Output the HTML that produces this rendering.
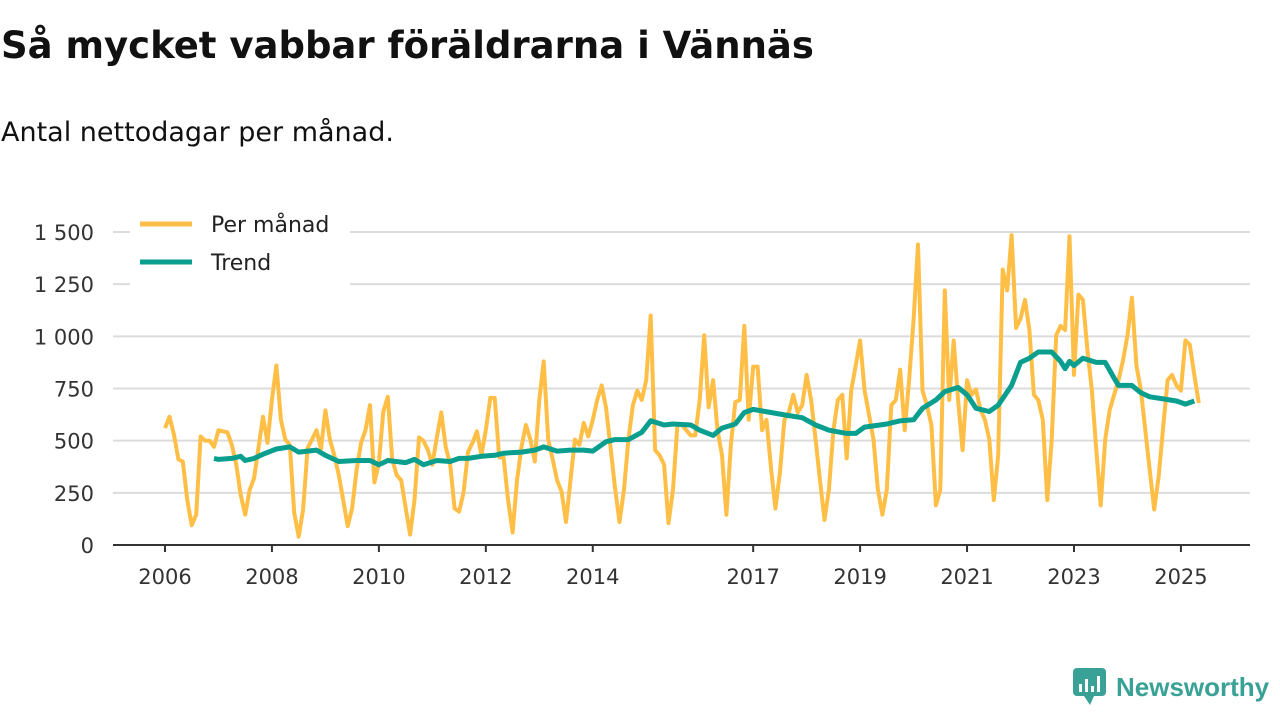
<!DOCTYPE html>
<html><head><meta charset="utf-8"><style>
body{margin:0;width:1280px;height:720px;background:#fff;font-family:"DejaVu Sans","Liberation Sans",sans-serif;overflow:hidden;position:relative}
h1{position:absolute;left:1px;top:24px;margin:0;font-size:37px;font-weight:bold;color:#111;white-space:nowrap}
.sub{position:absolute;left:1px;top:117px;font-size:27px;color:#111;white-space:nowrap}
</style></head><body>
<h1>Så mycket vabbar föräldrarna i Vännäs</h1>
<div class="sub">Antal nettodagar per månad.</div>
<svg id="chart" width="1280" height="720" style="position:absolute;left:0;top:0"></svg>
<script>
const monthly=[560,615,530,410,400,215,95,145,520,500,500,470,
550,545,540,480,385,240,145,265,320,470,615,490,
695,860,600,505,480,155,40,170,465,505,550,460,
645,505,430,335,215,90,175,360,490,550,670,300,
395,640,710,410,335,310,180,50,215,515,500,455,
385,515,635,470,385,175,160,250,445,490,545,
430,550,705,705,420,420,215,60,310,470,575,505,
400,695,880,505,410,310,255,110,310,505,480,585,
520,600,695,765,655,465,275,110,265,505,670,740,
695,790,1100,455,430,385,105,265,575,575,550,525,
525,695,1005,660,790,550,430,145,480,685,695,
1050,600,855,855,550,600,370,175,345,600,635,720,
635,670,815,695,505,310,120,265,550,695,720,415,
740,860,980,740,625,505,265,145,265,670,695,840,
550,790,1080,1440,740,670,575,190,265,1220,695,980,
695,455,790,720,745,650,600,505,215,430,1320,1220,1485,
1040,1085,1175,1030,720,695,600,215,505,1005,1050,1030,
1480,815,1200,1175,935,745,455,190,505,645,720,790,
885,1005,1185,860,745,550,360,170,330,560,790,815,765,
740,980,960,815,680];
const trendMonths=[11,12,15,17,18,20,22,25,28,30,34,36,39,43,46,48,50,54,56,58,61,64,66,68,71,74,76,80,83,85,88,91,94,96,99,101,104,107,109,112,114,118,120,123,125,128,130,132,136,140,143,146,149,153,155,157,162,165,168,170,173,175,178,180,182,185,187,190,192,194,196,199,201,202,203,204,206,209,211,213,214,217,219,221,224,227,229,231];
const trendValues=[415,410,415,425,405,415,435,460,470,445,455,430,400,405,405,385,405,395,410,385,405,400,415,415,425,430,440,445,455,470,450,455,455,450,495,505,505,540,595,575,580,575,550,525,560,580,635,650,635,620,610,575,550,535,535,565,580,595,600,655,695,735,755,720,655,640,670,765,875,895,925,925,880,845,880,860,895,875,875,800,765,765,730,710,700,690,675,690];
const yTicks=[0,250,500,750,1000,1250,1500];
const yTickLabels=["0","250","500","750","1 000","1 250","1 500"];
const xTickYears=[2006,2008,2010,2012,2014,2017,2019,2021,2023,2025];

const NS="http://www.w3.org/2000/svg";
const svg=document.getElementById('chart');
const FONT='DejaVu Sans, Liberation Sans, sans-serif';
const X0=165, PX_YEAR=53.47, Y0=545, PX_UNIT=313/1500;
const xm=m=>X0+m*PX_YEAR/12;
const xy=yr=>X0+(yr-2006)*PX_YEAR;
const yv=v=>Y0-v*PX_UNIT;
function mk(t,a){const e=document.createElementNS(NS,t);for(const k in a)e.setAttribute(k,a[k]);svg.appendChild(e);return e;}

yTicks.forEach((v,i)=>{
  if(v>0){const g=mk('line',{x1:113,x2:1250,y1:yv(v),y2:yv(v),stroke:'#dcdcdc','stroke-width':2});
  
  }
  const t=mk('text',{x:94,y:yv(v)+8,'text-anchor':'end','font-size':21,fill:'#333','font-family':FONT});
  t.textContent=yTickLabels[i];
  
  
});
const ax=mk('line',{x1:113,x2:1250,y1:Y0,y2:Y0,stroke:'#333','stroke-width':2});


xTickYears.forEach(yr=>{
  const tk=mk('line',{x1:xy(yr),x2:xy(yr),y1:Y0,y2:Y0+7,stroke:'#333','stroke-width':2});
  
  
  const t=mk('text',{x:xy(yr),y:584,'text-anchor':'middle','font-size':21,fill:'#333','font-family':FONT});
  t.textContent=yr;
  
  
});
const mp=monthly.map((v,i)=>xm(i).toFixed(1)+','+yv(v).toFixed(1)).join(' ');
const l1=mk('polyline',{points:mp,fill:'none',stroke:'#ffbf47','stroke-width':4,'stroke-linejoin':'round'});


const tp=trendMonths.map((m,i)=>xm(m).toFixed(1)+','+yv(trendValues[i]).toFixed(1)).join(' ');
const l2=mk('polyline',{points:tp,fill:'none',stroke:'#0a9e8e','stroke-width':5,'stroke-linejoin':'round'});



const lb=mk('rect',{x:130,y:200,width:220,height:86,fill:'#fff'});


[['Per månad','#ffbf47',224],['Trend','#0a9e8e',262]].forEach(([n,c,y])=>{
  const s=mk('line',{x1:140,x2:192,y1:y,y2:y,stroke:c,'stroke-width':5});
  
  
  const t=mk('text',{x:211,y:y+8,'font-size':22,fill:'#222','font-family':FONT});
  t.textContent=n;
  
  
});
</script>
<div style="position:absolute;left:1072px;top:667px;display:flex;align-items:center">
<svg width="36" height="40"><rect x="1" y="1" width="33" height="28" rx="4" fill="#3aa197"/><polygon points="12,29 18,38 22,29" fill="#3aa197"/><rect x="7" y="17" width="3" height="8" fill="#fff"/><rect x="13" y="12" width="3" height="13" fill="#fff"/><rect x="19" y="19" width="3" height="6" fill="#fff"/><rect x="25" y="9" width="3" height="16" fill="#fff"/></svg>
<span style="font-size:26px;font-weight:bold;color:#3aa197;margin-left:8px;font-family:'Liberation Sans',sans-serif">Newsworthy</span>
</div>
</body></html>
